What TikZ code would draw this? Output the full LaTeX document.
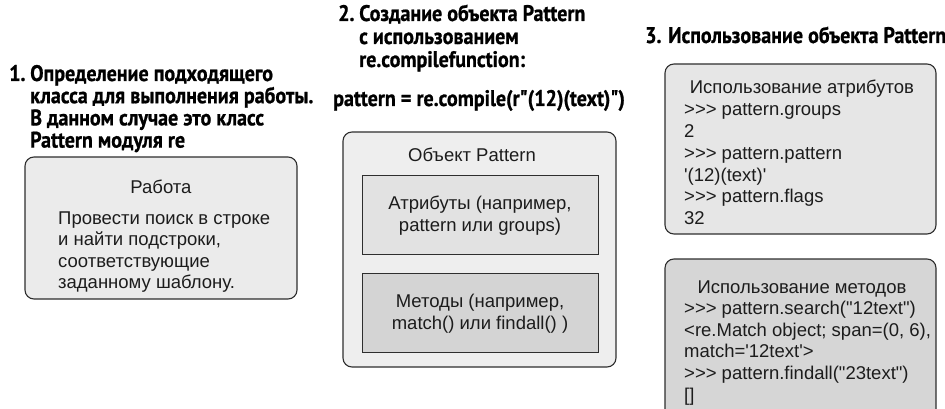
\documentclass[tikz,border=0pt]{standalone}
\usepackage{fontspec}
\setmainfont{Liberation Sans}
\newfontfamily\bodyfont{Liberation Sans}
\newfontfamily\headfont[FakeStretch=0.89,FakeBold=0.8]{PT Sans}

\definecolor{edge}{HTML}{2E2E2E}
\definecolor{inktext}{HTML}{1C1C1C}
\definecolor{fillwork}{HTML}{EBEBEB}
\definecolor{fillobj}{HTML}{EEEEEE}
\definecolor{fillattr}{HTML}{E2E2E2}
\definecolor{fillmeth}{HTML}{D4D4D4}
\definecolor{fillusea}{HTML}{E6E6E6}
\definecolor{fillusem}{HTML}{D6D6D6}

\tikzset{
  panel/.style={draw=edge, line width=1.1pt, rounded corners=9pt, inner sep=0pt},
  subbox/.style={draw=edge, line width=1pt, inner sep=0pt},
  body/.style={font=\bodyfont\fontsize{18.5}{21.7}\selectfont, text=inktext, inner sep=0pt},
  head/.style={font=\headfont\bfseries\fontsize{22.5}{23}\selectfont, text=black, inner sep=0pt},
}

\begin{document}
\begin{tikzpicture}[x=1pt,y=-1pt]
\useasboundingbox (0,0) rectangle (945,409);
\clip (0,0) rectangle (945,409);

% ---------- step 1: the job ----------
\node[head, anchor=base west] (h1n) at (9,81) {1.};
\foreach \t [count=\i] in {{Определение подходящего},{класса для выполнения работы.},{В данном случае это класс},{Pattern модуля re}}
  \node[head, anchor=base west] (h1-\i) at (30,{81+22.2*(\i-1)}) {\t};

\node[panel, fill=fillwork, minimum width=272pt, minimum height=142pt] (work) at (161,228) {};
\node[body, anchor=base] (worktitle) at (161,193.5) {Работа};
\foreach \t [count=\i] in {{Провести поиск в строке},{и найти подстроки,},{соответствующие},{заданному шаблону.}}
  \node[body, anchor=base west] (work-\i) at (58,{224+21.6*(\i-1)}) {\t};

% ---------- step 2: building the Pattern object ----------
\node[head, anchor=base west] (h2n) at (338,21) {2.};
\foreach \t [count=\i] in {{Создание объекта Pattern},{с использованием},{re.compilefunction:}}
  \node[head, anchor=base west] (h2-\i) at (359,{21+23*(\i-1)}) {\t};
\node[head, anchor=base west] (compile) at (333,106) {pattern = re.compile(r"(12)(text)")};

\node[panel, fill=fillobj, minimum width=273pt, minimum height=235pt] (obj) at (479.5,249.5) {};
\node[body, anchor=base] (objtitle) at (472,161) {Объект Pattern};

\node[subbox, fill=fillattr, minimum width=236pt, minimum height=79pt] (attr) at (480,214.5) {};
\node[body, anchor=base] (attr-1) at (480,209.6) {Атрибуты (например,};
\node[body, anchor=base] (attr-2) at (480,231.3) {pattern или groups)};

\node[subbox, fill=fillmeth, minimum width=236pt, minimum height=79pt] (meth) at (480,312.5) {};
\node[body, anchor=base] (meth-1) at (480,307.6) {Методы (например,};
\node[body, anchor=base] (meth-2) at (480,329.3) {match() или findall() )};

% ---------- step 3: using the Pattern object ----------
\node[head, anchor=base west] (h3) at (645,43) {3. Использование объекта Pattern};

\node[panel, fill=fillusea, minimum width=271pt, minimum height=170pt] (usea) at (800.5,149) {};
\node[body, anchor=base] (useatitle) at (802,94) {Использование атрибутов};
\foreach \t [count=\i] in {{>>> pattern.groups},{2},{>>> pattern.pattern},{'(12)(text)'},{>>> pattern.flags},{32}}
  \node[body, anchor=base west] (usea-\i) at (684,{116+21.7*(\i-1)}) {\t};

\node[panel, fill=fillusem, minimum width=271pt, minimum height=172pt] (usem) at (800.5,345) {};
\node[body, anchor=base] (usemtitle) at (802,293) {Использование методов};
\foreach \t [count=\i] in {{>>> pattern.search("12text")},{<re.Match object; span=(0, 6),},{match='12text'>},{>>> pattern.findall("23text")},{[]}}
  \node[body, anchor=base west] (usem-\i) at (684,{314.5+21.7*(\i-1)}) {\t};
\end{tikzpicture}
\end{document}
